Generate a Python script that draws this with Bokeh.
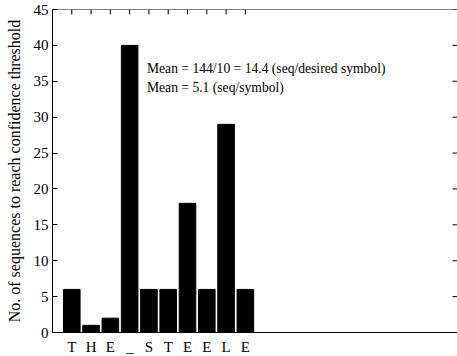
import math
from bokeh.plotting import figure
from bokeh.models import LinearAxis, FixedTicker, Range1d, ColumnDataSource, Label, Span
from bokeh.embed import file_html
from bokeh.resources import INLINE

letters = ["T", "H", "E", "_", "S", "T", "E", "E", "L", "E"]
positions = [1, 2, 3, 4, 5, 6, 7, 8, 9, 10]
counts = [6, 1, 2, 40, 6, 6, 18, 6, 29, 6]
y_ticks = [0, 5, 10, 15, 20, 25, 30, 35, 40, 45]
x_max = 21
y_max = 45
y_label = "No. of sequences to reach confidence threshold"
annot_lines = ["Mean = 144/10 = 14.4 (seq/desired symbol)", "Mean = 5.1 (seq/symbol)"]
annot_x = 4.9
annot_y = [36.8, 34.2]

FONT = "Liberation Serif"

p = figure(frame_width=405, frame_height=323, x_range=Range1d(0, x_max),
           y_range=Range1d(0, y_max),
           x_axis_type=None, y_axis_type=None, output_backend="svg",
           toolbar_location=None, min_border_left=52, min_border_right=0,
           min_border_top=9, min_border_bottom=24)
p.outline_line_color = None
p.xgrid.visible = False
p.ygrid.visible = False
p.background_fill_color = "white"
p.border_fill_color = "white"

src = ColumnDataSource(dict(x=positions, top=counts))
p.vbar(x="x", top="top", bottom=0, width=0.86, source=src,
       fill_color="black", line_color="black")

# bottom axis
xb = LinearAxis(ticker=FixedTicker(ticks=positions),
                major_label_overrides={pp: l for pp, l in zip(positions, letters)})
xb.major_tick_in = 5
xb.major_tick_out = 0
xb.minor_tick_line_color = None
xb.major_label_text_font = FONT
xb.major_label_text_font_size = "15px"
xb.major_label_text_color = "black"
xb.major_label_standoff = 6
xb.axis_line_color = "black"
p.add_layout(xb, "below")

# left axis
yl = LinearAxis(ticker=FixedTicker(ticks=y_ticks), axis_label=y_label)
yl.major_tick_in = 5
yl.major_tick_out = 0
yl.minor_tick_line_color = None
yl.major_label_text_font = FONT
yl.major_label_text_font_size = "15px"
yl.major_label_text_color = "black"
yl.major_label_standoff = 4
yl.axis_label_text_font = FONT
yl.axis_label_text_font_size = "16px"
yl.axis_label_text_font_style = "normal"
yl.axis_label_text_color = "black"
yl.axis_label_standoff = 8
yl.axis_line_color = "black"
p.add_layout(yl, "left")

# top frame line and mirrored ticks
p.add_layout(Span(location=y_max, dimension="width", line_color="black", line_width=1))
p.ray(x=positions, y=[y_max] * len(positions), length=5, length_units="screen",
      angle=-math.pi / 2, line_color="black", line_width=1)
p.ray(x=[x_max] * len(y_ticks), y=y_ticks, length=5, length_units="screen",
      angle=math.pi, line_color="black", line_width=1)

for txt, yy in zip(annot_lines, annot_y):
    p.add_layout(Label(x=annot_x, y=yy, text=txt, text_font=FONT,
                       text_font_size="13.6px", text_baseline="middle",
                       text_align="left", text_color="black"))

open("out.html", "w").write(file_html(p, INLINE))
